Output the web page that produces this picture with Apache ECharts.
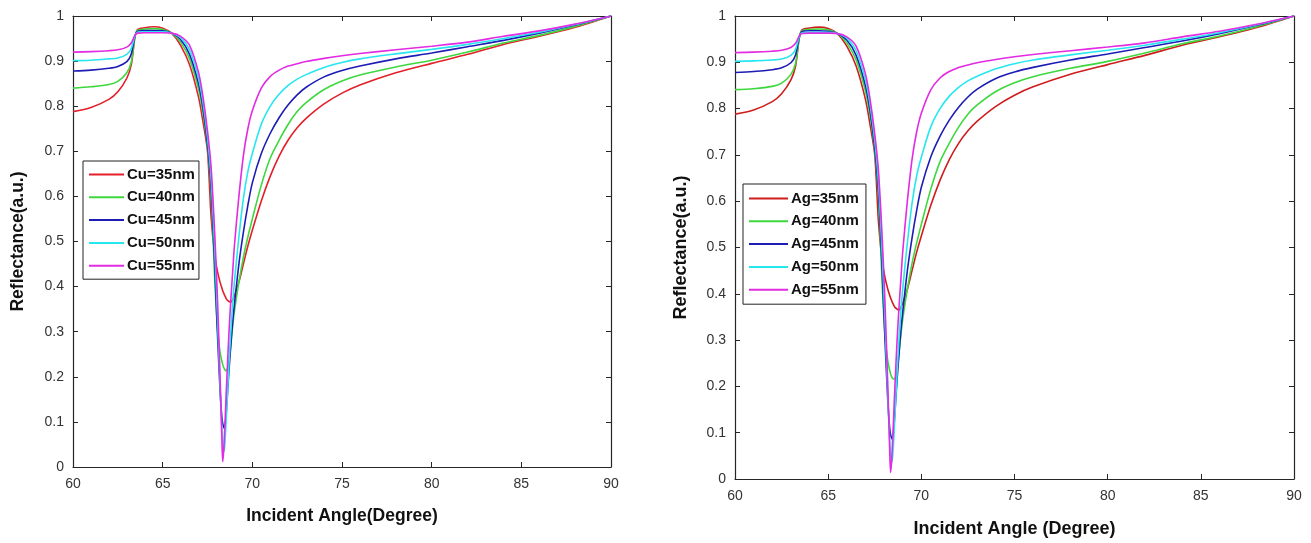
<!DOCTYPE html>
<html>
<head>
<meta charset="utf-8">
<script src="https://cdn.jsdelivr.net/npm/echarts@6/dist/echarts.min.js"></script>
<style>
html,body{margin:0;padding:0;background:#fff;}
#chart{width:1311px;height:543px;}
</style>
</head>
<body>
<div id="chart"></div>
<script>
// Incident angles (degrees) shared by every curve
const angles = [60, 61, 62, 62.5, 63, 63.25, 63.45, 63.6, 64, 64.5, 65, 65.5, 66, 66.5, 67, 67.25, 67.5, 67.7, 67.9, 68.05, 68.2, 68.3, 68.35, 68.4, 68.45, 68.5, 68.55, 68.6, 68.7, 68.8, 68.9, 69, 69.25, 69.5, 69.75, 70, 70.5, 71, 71.5, 72, 72.5, 73, 74, 75, 76, 78, 80, 82, 84, 86, 88, 90];

// Left panel: Cu thickness
const cuNames = ['Cu=35nm', 'Cu=40nm', 'Cu=45nm', 'Cu=50nm', 'Cu=55nm'];
const cu35 = [.788,.797,.815,.832,.862,.892,.952,.970,.974,.976,.973,.962,.935,.892,.820,.765,.700,.555,.470,.435,.410,.397,.391,.386,.381,.377,.373,.370,.367,.366,.370,.380,.410,.450,.490,.525,.590,.645,.690,.725,.752,.773,.805,.829,.847,.874,.895,.915,.937,.955,.975,1.0];
const cu40 = [.840,.843,.848,.855,.874,.898,.953,.968,.971,.972,.970,.962,.942,.905,.838,.785,.710,.610,.420,.310,.255,.235,.227,.221,.217,.214,.213,.216,.235,.270,.310,.345,.410,.465,.510,.550,.625,.685,.725,.760,.788,.808,.837,.856,.869,.887,.902,.920,.940,.957,.977,1.0];
const cu45 = [.878,.880,.884,.888,.899,.916,.955,.966,.968,.968,.967,.962,.948,.915,.850,.795,.715,.620,.450,.300,.170,.110,.096,.089,.086,.098,.125,.155,.215,.270,.320,.360,.450,.520,.580,.630,.695,.740,.775,.803,.825,.842,.865,.879,.889,.905,.918,.932,.946,.962,.980,1.0];
const cu50 = [.901,.902,.905,.907,.915,.928,.956,.964,.965,.965,.965,.962,.952,.925,.862,.808,.730,.640,.485,.340,.180,.085,.052,.034,.042,.072,.110,.150,.230,.300,.360,.410,.510,.595,.655,.695,.760,.800,.827,.846,.860,.870,.886,.897,.905,.916,.926,.937,.950,.964,.981,1.0];
const cu55 = [.920,.921,.923,.925,.931,.940,.957,.962,.963,.963,.963,.962,.955,.935,.875,.820,.745,.665,.520,.380,.200,.065,.012,.035,.075,.120,.170,.215,.300,.370,.430,.490,.600,.690,.750,.790,.840,.866,.880,.889,.894,.899,.906,.912,.917,.925,.933,.942,.955,.967,.982,1.0];

// Right panel: Ag thickness
const agNames = ['Ag=35nm', 'Ag=40nm', 'Ag=45nm', 'Ag=50nm', 'Ag=55nm'];
const ag35 = [.788,.797,.815,.832,.862,.892,.952,.970,.974,.976,.973,.962,.935,.892,.820,.765,.700,.555,.470,.435,.410,.397,.391,.386,.381,.377,.373,.370,.367,.365,.370,.380,.410,.450,.490,.525,.590,.645,.690,.725,.752,.773,.805,.829,.847,.874,.895,.915,.937,.955,.975,1.0];
const ag40 = [.841,.843,.848,.855,.874,.898,.953,.968,.971,.972,.970,.962,.942,.905,.838,.785,.710,.610,.420,.310,.255,.235,.227,.221,.218,.216,.216,.218,.235,.270,.310,.345,.410,.465,.510,.550,.625,.685,.725,.760,.788,.808,.837,.856,.869,.887,.902,.920,.940,.957,.977,1.0];
const ag45 = [.878,.880,.884,.888,.899,.916,.955,.966,.968,.968,.967,.962,.948,.915,.850,.795,.715,.620,.450,.300,.170,.110,.096,.089,.086,.098,.125,.155,.215,.270,.320,.360,.450,.520,.580,.630,.695,.740,.775,.803,.825,.842,.865,.879,.889,.905,.918,.932,.946,.962,.980,1.0];
const ag50 = [.902,.903,.905,.907,.915,.928,.956,.964,.965,.965,.965,.962,.952,.925,.862,.808,.730,.640,.485,.340,.180,.085,.052,.036,.044,.072,.110,.150,.230,.300,.360,.410,.510,.595,.655,.695,.760,.800,.827,.846,.860,.870,.886,.897,.905,.916,.926,.937,.950,.964,.981,1.0];
const ag55 = [.921,.922,.924,.926,.932,.941,.957,.962,.963,.963,.963,.962,.955,.935,.875,.820,.745,.665,.520,.380,.200,.065,.014,.035,.075,.120,.170,.215,.300,.370,.430,.490,.600,.690,.750,.790,.840,.866,.880,.889,.894,.899,.906,.912,.917,.925,.933,.942,.955,.967,.982,1.0];

const xTicks = {min: 60, max: 90, interval: 5};
const yTicks = {min: 0, max: 1, interval: 0.1};

const leftColors = ['#e3202a', '#3ed83e', '#1d1db5', '#28e6ef', '#e22be2'];
const rightColors = ['#cf1c1c', '#3ed83e', '#1d1db5', '#28e6ef', '#e22be2'];

const FONT = '"Liberation Sans", Arial, sans-serif';
const AX = '#262626';

function pairs(vals) { return angles.map((a, i) => [a, vals[i]]); }

function mkX(gridIndex, pos, showLabels, name, nameSize, gap) {
  return {
    type: 'value', gridIndex, position: pos, min: xTicks.min, max: xTicks.max, interval: xTicks.interval,
    name: showLabels ? name : '', nameLocation: 'middle', nameGap: gap,
    nameTextStyle: {fontFamily: FONT, fontWeight: 'bold', fontSize: nameSize, color: '#111'},
    axisLine: {show: true, onZero: false, lineStyle: {color: AX, width: 1.2}},
    axisTick: {show: true, inside: true, length: 5, lineStyle: {color: AX}},
    axisLabel: {show: showLabels, fontFamily: FONT, fontSize: 14, color: '#333', margin: 10},
    splitLine: {show: false}
  };
}
function mkY(gridIndex, pos, showLabels, name, nameSize, gap) {
  return {
    type: 'value', gridIndex, position: pos, min: yTicks.min, max: yTicks.max, interval: yTicks.interval,
    name: showLabels ? name : '', nameLocation: 'middle', nameGap: gap,
    nameTextStyle: {fontFamily: FONT, fontWeight: 'bold', fontSize: nameSize, color: '#111'},
    axisLine: {show: true, onZero: false, lineStyle: {color: AX, width: 1.2}},
    axisTick: {show: true, inside: true, length: 5, lineStyle: {color: AX}},
    axisLabel: {show: showLabels, fontFamily: FONT, fontSize: 14, color: '#333', margin: 9},
    splitLine: {show: false}
  };
}

const series = [];
[cu35, cu40, cu45, cu50, cu55].forEach((v, i) => series.push({
  type: 'line', name: cuNames[i], xAxisIndex: 0, yAxisIndex: 0, data: pairs(v),
  symbol: 'none', smooth: 0.3,
  lineStyle: {color: leftColors[i], width: 1.6}, itemStyle: {color: leftColors[i]}
}));
[ag35, ag40, ag45, ag50, ag55].forEach((v, i) => series.push({
  type: 'line', name: agNames[i], xAxisIndex: 2, yAxisIndex: 2, data: pairs(v),
  symbol: 'none', smooth: 0.3,
  lineStyle: {color: rightColors[i], width: 1.6}, itemStyle: {color: rightColors[i]}
}));

const legendCommon = {
  orient: 'vertical', backgroundColor: '#fff', borderColor: '#222', borderWidth: 1,
  itemHeight: 14, itemGap: 7.8,
  itemStyle: {opacity: 0},
  textStyle: {fontFamily: FONT, fontWeight: 'bold', fontSize: 15, color: '#111', padding: [0, 0, 0, -2]}
};

const option = {
  backgroundColor: '#fff',
  animation: false,
  grid: [
    {left: 73, top: 16, width: 538, height: 451},
    {left: 735, top: 16, width: 559, height: 466}
  ],
  xAxis: [
    mkX(0, 'bottom', true, 'Incident Angle(Degree)', 17.5, 40),
    mkX(0, 'top', false, '', 17.5, 40),
    mkX(1, 'bottom', true, 'Incident Angle (Degree)', 18, 41),
    mkX(1, 'top', false, '', 18, 40)
  ],
  yAxis: [
    mkY(0, 'left', true, 'Reflectance(a.u.)', 17.5, 46),
    mkY(0, 'right', false, '', 17.5, 46),
    mkY(1, 'left', true, 'Reflectance(a.u.)', 18, 45),
    mkY(1, 'right', false, '', 18, 45)
  ],
  legend: [
    Object.assign({}, legendCommon, {data: cuNames, left: 83, top: 161, itemWidth: 35, padding: [6, 4, 6, 5]}),
    Object.assign({}, legendCommon, {data: agNames, left: 743, top: 184, itemWidth: 39, padding: [7, 7, 7, 5]})
  ],
  series
};

const chart = echarts.init(document.getElementById('chart'), null, {renderer: 'canvas'});
chart.setOption(option);
</script>
</body>
</html>
